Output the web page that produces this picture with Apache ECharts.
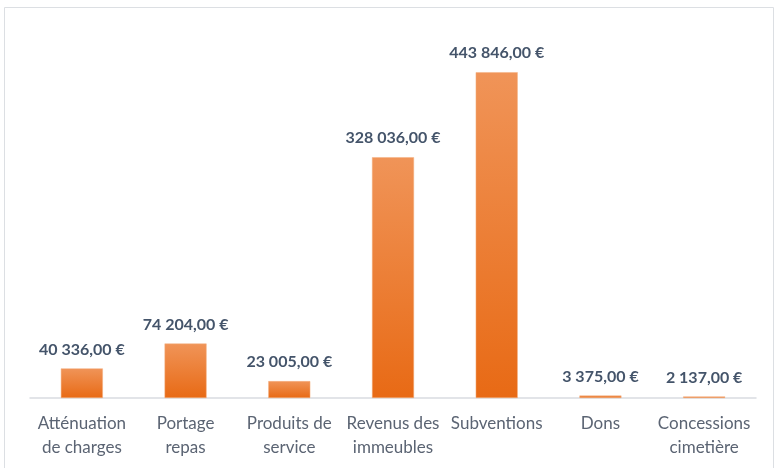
<!DOCTYPE html>
<html>
<head>
<meta charset="utf-8">
<script src="https://cdn.jsdelivr.net/npm/echarts@6/dist/echarts.min.js"></script>
<style>
  html, body { margin: 0; padding: 0; background: #fff; }
  #chart { width: 776px; height: 468px; }
</style>
</head>
<body>
<div id="chart"></div>
<script>
const categories = ['Atténuation\nde charges', 'Portage\nrepas', 'Produits de\nservice', 'Revenus des\nimmeubles', 'Subventions', 'Dons', 'Concessions\ncimetière'];
const amounts = [40336, 74204, 23005, 328036, 443846, 3375, 2137];

function euro(v) {
  const parts = v.toFixed(2).split('.');
  const intPart = parts[0].replace(/\B(?=(\d{3})+(?!\d))/g, ' ');
  return intPart + ',' + parts[1] + ' €';
}

const chart = echarts.init(document.getElementById('chart'));

const option = {
  backgroundColor: '#fff',
  animation: false,
  graphic: [
    {
      type: 'rect',
      shape: { x: 4.5, y: 7.5, width: 769, height: 480 },
      style: { fill: 'none', stroke: '#dcdfe3', lineWidth: 1 }
    }
  ],
  grid: {
    left: 30,
    right: 20,
    top: 31,
    bottom: 70
  },
  xAxis: {
    type: 'category',
    data: categories,
    axisLine: { lineStyle: { color: '#d9dce1', width: 1.5 } },
    axisTick: { show: false },
    axisLabel: {
      interval: 0,
      color: '#5b6473',
      fontFamily: 'Lato',
      fontSize: 17,
      lineHeight: 24,
      margin: 14
    }
  },
  yAxis: {
    type: 'value',
    min: 0,
    max: 500000,
    show: false,
    splitLine: { show: false }
  },
  series: [
    {
      type: 'bar',
      data: amounts,
      barWidth: 42,
      itemStyle: {
        color: new echarts.graphic.LinearGradient(0, 0, 0, 1, [
          { offset: 0, color: '#f09458' },
          { offset: 1, color: '#e86a15' }
        ]),
        borderColor: '#f5b080',
        borderWidth: 0.5
      },
      label: {
        show: true,
        position: 'top',
        distance: 11,
        color: '#44546a',
        fontFamily: 'Lato',
        fontWeight: 'bold',
        fontSize: 16,
        formatter: function (p) { return euro(p.value); }
      }
    }
  ]
};

chart.setOption(option);

window.addEventListener('resize', function () {
  chart.resize();
});
</script>
</body>
</html>
